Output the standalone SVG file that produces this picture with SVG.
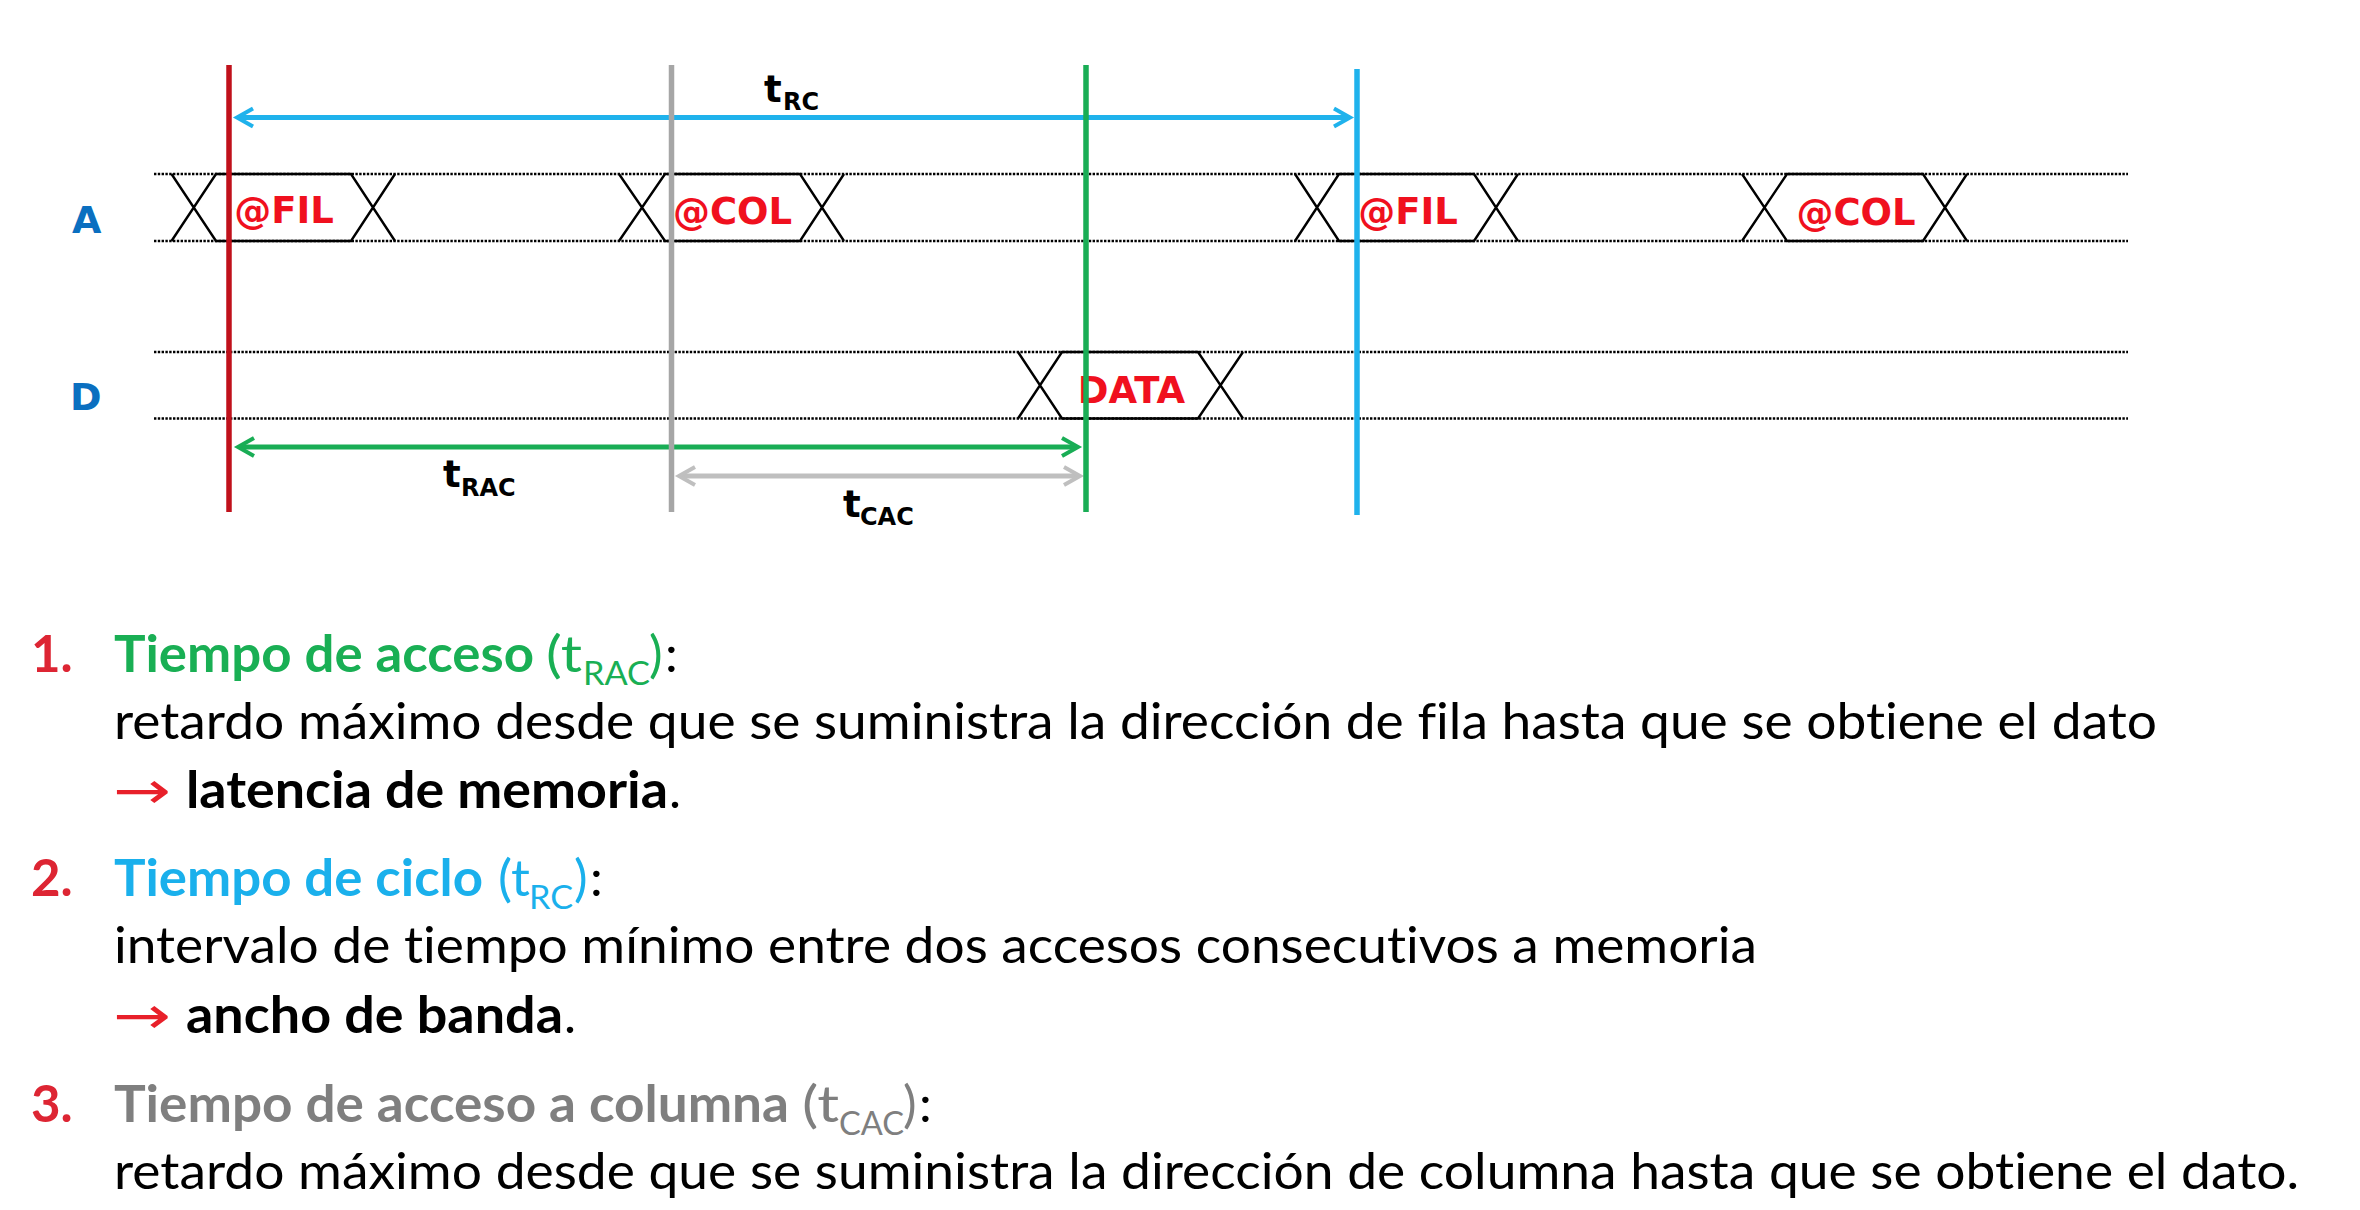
<svg xmlns="http://www.w3.org/2000/svg" width="2360" height="1210" viewBox="0 0 2360 1210">
<style>
.dot{stroke:#000;stroke-width:2.5;stroke-dasharray:2.4 1.4;fill:none}
.bus{stroke:#000;stroke-width:2.4;fill:none;stroke-linejoin:miter}
.busl{font-family:"DejaVu Sans",sans-serif;font-weight:bold;font-size:37px;fill:#F0101E;text-anchor:middle}
.sig{font-family:"DejaVu Sans",sans-serif;font-weight:bold;font-size:38px;fill:#0A6FC0}
.tl{font-family:"DejaVu Sans",sans-serif;font-weight:bold;font-size:37px;fill:#000}
.ts{font-family:"DejaVu Sans",sans-serif;font-weight:bold;font-size:24px;fill:#000}
.vl{stroke-width:5.5;fill:none}
.ar{stroke-width:5;fill:none}
.b{font-family:Lato,"Liberation Sans",sans-serif;font-size:51px;font-weight:bold;font-variant-ligatures:none}
.r{font-family:Lato,"Liberation Sans",sans-serif;font-size:51px;font-variant-ligatures:none}
.sub{font-family:Lato,"Liberation Sans",sans-serif;font-size:32px;font-variant-ligatures:none}
.arr{font-family:"DejaVu Sans",sans-serif;font-size:51px;fill:#E8202A}
.num{fill:#DD2533}
.g{fill:#19AF54}
.bl{fill:#1AB0EC}
.gr{fill:#7F7F7F}
.k{fill:#000}
</style>
<defs>
<marker id="ahBlue" markerUnits="userSpaceOnUse" viewBox="-20 -14 30 28" markerWidth="30" markerHeight="28" refX="0" refY="0" orient="auto-start-reverse" overflow="visible"><path d="M-13 -9 L3 0 L-13 9" fill="none" stroke="#1FB2EC" stroke-width="4"/></marker>
<marker id="ahGreen" markerUnits="userSpaceOnUse" viewBox="-20 -14 30 28" markerWidth="30" markerHeight="28" refX="0" refY="0" orient="auto-start-reverse" overflow="visible"><path d="M-13 -9 L3 0 L-13 9" fill="none" stroke="#19AD55" stroke-width="4"/></marker>
<marker id="ahGray" markerUnits="userSpaceOnUse" viewBox="-20 -14 30 28" markerWidth="30" markerHeight="28" refX="0" refY="0" orient="auto-start-reverse" overflow="visible"><path d="M-13 -9 L3 0 L-13 9" fill="none" stroke="#BFBFBF" stroke-width="4"/></marker>
</defs>
<rect width="2360" height="1210" fill="#fff"/>

<g id="signal-lines">
<line class="dot" x1="154" y1="174" x2="2128" y2="174"/>
<line class="dot" x1="154" y1="241" x2="2128" y2="241"/>
<line class="dot" x1="154" y1="352" x2="2128" y2="352"/>
<line class="dot" x1="154" y1="418.5" x2="2128" y2="418.5"/>
</g>

<g id="label-A"><text class="sig" x="72" y="233">A</text></g>
<g id="label-D"><text class="sig" x="70" y="410">D</text></g>

<g id="bus-fil1">
<path class="bus" d="M171.5 174 L216 241 L351 241 L395 174 M171.5 241 L216 174 L351 174 L395 241"/>
<text class="busl" x="284" y="223">@FIL</text>
</g>
<g id="bus-col1">
<path class="bus" d="M619 174 L665 241 L800 241 L844 174 M619 241 L665 174 L800 174 L844 241"/>
<text class="busl" x="732.5" y="224">@COL</text>
</g>
<g id="bus-fil2">
<path class="bus" d="M1295 174 L1339 241 L1474 241 L1518 174 M1295 241 L1339 174 L1474 174 L1518 241"/>
<text class="busl" x="1408" y="224">@FIL</text>
</g>
<g id="bus-col2">
<path class="bus" d="M1742 174 L1787 241 L1923 241 L1967 174 M1742 241 L1787 174 L1923 174 L1967 241"/>
<text class="busl" x="1856" y="225">@COL</text>
</g>
<g id="bus-data">
<path class="bus" d="M1018 352 L1062 418.5 L1198 418.5 L1243 352 M1018 418.5 L1062 352 L1198 352 L1243 418.5"/>
<text class="busl" x="1131.5" y="403">DATA</text>
</g>

<g id="connectors">
<line class="ar" stroke="#1FB2EC" x1="240" y1="117.5" x2="1347" y2="117.5" marker-start="url(#ahBlue)" marker-end="url(#ahBlue)"/>
<line class="ar" stroke="#19AD55" x1="241" y1="447" x2="1075" y2="447" marker-start="url(#ahGreen)" marker-end="url(#ahGreen)"/>
<line class="ar" stroke="#BFBFBF" x1="682" y1="476" x2="1077" y2="476" marker-start="url(#ahGray)" marker-end="url(#ahGray)"/>
<line class="vl" stroke="#C0111B" x1="229" y1="65" x2="229" y2="512"/>
<line class="vl" stroke="#A6A6A6" x1="671.5" y1="65" x2="671.5" y2="512"/>
<line class="vl" stroke="#19AD55" x1="1086" y1="65" x2="1086" y2="512"/>
<line class="vl" stroke="#1FB2EC" x1="1357" y1="69" x2="1357" y2="515"/>
</g>

<g id="label-tRC"><text class="tl" x="764" y="102">t</text><text class="ts" x="783" y="110">RC</text></g>
<g id="label-tRAC"><text class="tl" x="443" y="487">t</text><text class="ts" x="461" y="496">RAC</text></g>
<g id="label-tCAC"><text class="tl" x="843" y="517">t</text><text class="ts" x="860" y="525">CAC</text></g>

<g id="item1">
<text class="b num" x="31" y="672">1.</text>
<text class="b g" x="114" y="672" textLength="420" lengthAdjust="spacingAndGlyphs">Tiempo de acceso</text>
<text class="r g" x="546" y="672" textLength="36" lengthAdjust="spacingAndGlyphs">(t</text>
<text class="sub g" x="583" y="685" textLength="67" lengthAdjust="spacingAndGlyphs">RAC</text>
<text class="r g" x="649" y="672">)</text>
<text class="r k" x="665" y="672">:</text>
<text class="r k" x="114" y="739" textLength="2043" lengthAdjust="spacingAndGlyphs">retardo máximo desde que se suministra la dirección de fila hasta que se obtiene el dato</text>
<text class="arr" x="113" y="808" textLength="58" lengthAdjust="spacingAndGlyphs">→</text>
<text class="b k" x="186" y="808" textLength="482" lengthAdjust="spacingAndGlyphs">latencia de memoria</text>
<text class="r k" x="669" y="808">.</text>
</g>

<g id="item2">
<text class="b num" x="31" y="896">2.</text>
<text class="b bl" x="114" y="896" textLength="369" lengthAdjust="spacingAndGlyphs">Tiempo de ciclo</text>
<text class="r bl" x="498" y="896" textLength="32" lengthAdjust="spacingAndGlyphs">(t</text>
<text class="sub bl" x="529" y="909" textLength="44" lengthAdjust="spacingAndGlyphs">RC</text>
<text class="r bl" x="574" y="896">)</text>
<text class="r k" x="590" y="896">:</text>
<text class="r k" x="114" y="963" textLength="1643" lengthAdjust="spacingAndGlyphs">intervalo de tiempo mínimo entre dos accesos consecutivos a memoria</text>
<text class="arr" x="113" y="1033" textLength="58" lengthAdjust="spacingAndGlyphs">→</text>
<text class="b k" x="186" y="1033" textLength="377" lengthAdjust="spacingAndGlyphs">ancho de banda</text>
<text class="r k" x="564" y="1033">.</text>
</g>

<g id="item3">
<text class="b num" x="31" y="1122">3.</text>
<text class="b gr" x="114" y="1122" textLength="675" lengthAdjust="spacingAndGlyphs">Tiempo de acceso a columna</text>
<text class="r gr" x="802" y="1122" textLength="37" lengthAdjust="spacingAndGlyphs">(t</text>
<text class="sub gr" x="839" y="1135" textLength="65" lengthAdjust="spacingAndGlyphs">CAC</text>
<text class="r gr" x="903" y="1122">)</text>
<text class="r k" x="919" y="1122">:</text>
<text class="r k" x="114" y="1189" textLength="2185" lengthAdjust="spacingAndGlyphs">retardo máximo desde que se suministra la dirección de columna hasta que se obtiene el dato.</text>
</g>
</svg>
